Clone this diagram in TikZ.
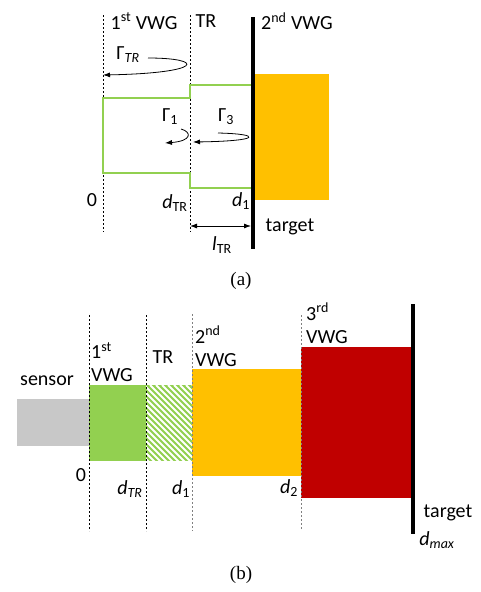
\documentclass[tikz,border=0pt]{standalone}
\usepackage{fontspec}
\setmainfont{Carlito}
\newfontfamily\capfont{Liberation Serif}
\usetikzlibrary{arrows.meta}
\definecolor{vgreen}{HTML}{92D050}
\definecolor{vorange}{HTML}{FFC000}
\definecolor{vred}{HTML}{C00000}
\definecolor{vgray}{HTML}{C8C8C8}
\tikzset{
  lbl/.style={inner sep=0pt, font=\fontsize{20}{23}\selectfont},
  capt/.style={inner sep=0pt, font=\capfont\fontsize{19}{22}\selectfont},
  dline/.style={line width=0.8pt, dash pattern=on 2pt off 2pt},
  gline/.style={dline, gray},
  wall/.style={line width=4pt},
  gam/.style={line width=0.8pt, -{Latex[length=7pt,width=5pt]}}
}
\begin{document}
\begin{tikzpicture}[x=1pt,y=-1pt]
\useasboundingbox (0,0) rectangle (481,592);
% ---------------- (a)
\draw[dline] (103,15) -- (103,232);
\draw[dline] (190,15) -- (190,232);
\fill[vorange] (255,74) rectangle (329,200);
\draw[vgreen, line width=1.3pt] (253,85) -- (190,85) -- (190,98) -- (103,98) -- (103,173) -- (190,173) -- (190,188) -- (253,188);
\draw[wall] (253,17) -- (253,249);
\node[lbl] (a1) at (144,21) {1\textsuperscript{st} VWG};
\node[lbl] (atr) at (206,21) {TR};
\node[lbl, anchor=west] (a2) at (261,21) {2\textsuperscript{nd} VWG};
\node[lbl] (gtr) at (128,55) {Γ\textsubscript{\textit{TR}}};
\node[lbl] (g1) at (170,117) {Γ\textsubscript{1}};
\node[lbl] (g3) at (226,117) {Γ\textsubscript{3}};
\node[lbl] (a0) at (92,200) {0};
\node[lbl] (adtr) at (175,203) {\textit{d}\textsubscript{TR}};
\node[lbl] (ad1) at (241,201) {\textit{d}\textsubscript{1}};
\node[lbl] (atg) at (290,227) {target};
\node[lbl] (altr) at (222,245) {\textit{l}\textsubscript{TR}};
\node[capt] (capa) at (241,281) {(a)};
\coordinate (ctrs) at (148,58);
\coordinate (ctre) at (103,75);
\draw[gam] (ctrs) .. controls (205,58) and (205,73) .. (ctre);
\coordinate (c1s) at (181,129);
\coordinate (c1e) at (165,143);
\draw[gam] (c1s) .. controls (192,132) and (192,141) .. (c1e);
\coordinate (c3s) at (218,133);
\coordinate (c3e) at (193,142);
\draw[gam] (c3s) .. controls (262,134) and (262,141) .. (c3e);
\coordinate (lta) at (190,226);
\coordinate (ltb) at (251,226);
\draw[line width=0.8pt, {Latex[length=7pt,width=5pt]}-{Latex[length=7pt,width=5pt]}] (lta) -- (ltb);
% ---------------- (b)
\fill[vgray] (17,399) rectangle (89,446);
\fill[vgreen] (89,385) rectangle (146,461);
\begin{scope}
\clip (146,385) rectangle (192,461);
\fill[vgreen] (146,385) rectangle (192,461);
\foreach \k in {0,6,...,140} {
  \draw[white, line width=2pt] (146+\k-80,385) -- (146+\k,465);
}
\end{scope}
\fill[vorange] (192,369) rectangle (301,476);
\fill[vred] (301,347) rectangle (412,498);
\draw[dline] (89,315) -- (89,531);
\draw[dline] (146,315) -- (146,531);
\draw[gline] (192,314) -- (192,531);
\draw[gline] (301,315) -- (301,530);
\draw[wall] (413,304) -- (413,534);
\node[lbl] (bs) at (47,381) {sensor};
\node[lbl, anchor=west, align=left] (b1) at (91,362) {1\textsuperscript{st}\\VWG};
\node[lbl] (btr) at (163,357) {TR};
\node[lbl, anchor=west, align=left] (b2) at (195,346) {2\textsuperscript{nd}\\VWG};
\node[lbl, anchor=west, align=left] (b3) at (306,323) {3\textsuperscript{rd}\\VWG};
\node[lbl] (b0) at (81,475) {0};
\node[lbl] (bdtr) at (130,489) {\textit{d}\textsubscript{\textit{TR}}};
\node[lbl] (bd1) at (181,489) {\textit{d}\textsubscript{1}};
\node[lbl] (bd2) at (289,488) {\textit{d}\textsubscript{2}};
\node[lbl] (btg) at (448,513) {target};
\node[lbl] (bdm) at (437,540) {\textit{d}\textsubscript{\textit{max}}};
\node[capt] (capb) at (241,575) {(b)};
\end{tikzpicture}
\end{document}
